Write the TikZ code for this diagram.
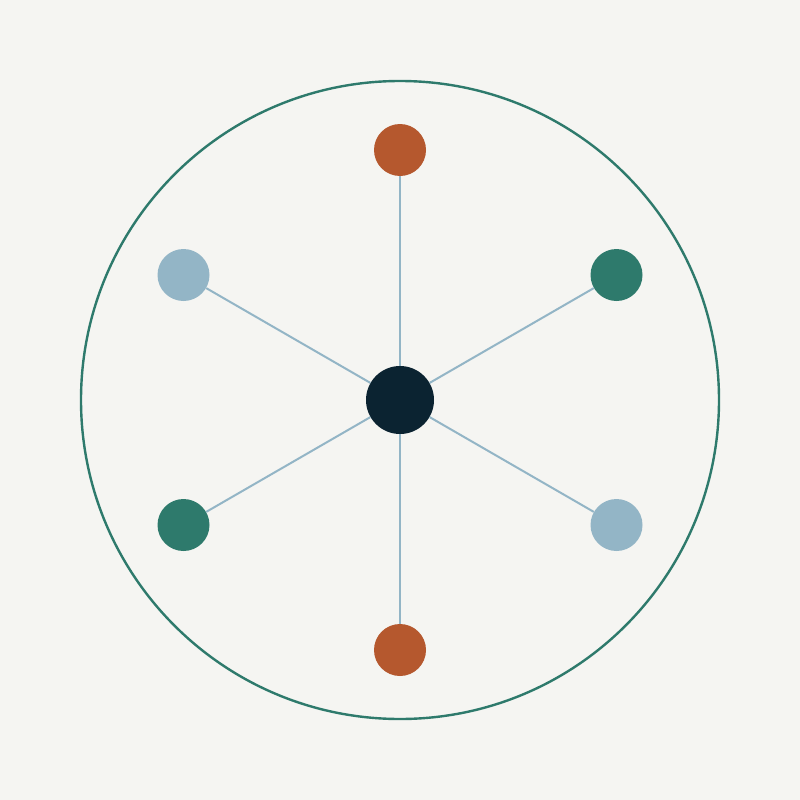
\documentclass[tikz,border=0pt]{standalone}
\definecolor{bg}{HTML}{F5F5F2}
\definecolor{navy}{HTML}{0B2331}
\definecolor{rust}{HTML}{B5582E}
\definecolor{teal}{HTML}{2E7A6C}
\definecolor{sky}{HTML}{93B5C6}
\begin{document}
\begin{tikzpicture}[x=1pt,y=-1pt,
  hub/.style={circle,fill=navy,minimum size=68pt,inner sep=0pt},
  sat/.style={circle,minimum size=52pt,inner sep=0pt},
  spoke/.style={draw=sky,line width=2pt},
  ring/.style={draw=teal,line width=2.4pt}]
\fill[bg] (0,0) rectangle (800,800);
\useasboundingbox (0,0) rectangle (800,800);
\draw[ring] (400,400) circle[radius=319];
\node[sat,fill=rust] (n1) at (400,150) {};
\node[sat,fill=teal] (n2) at (616.5,275) {};
\node[sat,fill=sky] (n3) at (616.5,525) {};
\node[sat,fill=rust] (n4) at (400,650) {};
\node[sat,fill=teal] (n5) at (183.5,525) {};
\node[sat,fill=sky] (n6) at (183.5,275) {};
\node[hub] (c) at (400,400) {};
\foreach \n in {n1,n2,n3,n4,n5,n6}{
  \draw[spoke] (c) -- (\n);
}
\end{tikzpicture}
\end{document}
